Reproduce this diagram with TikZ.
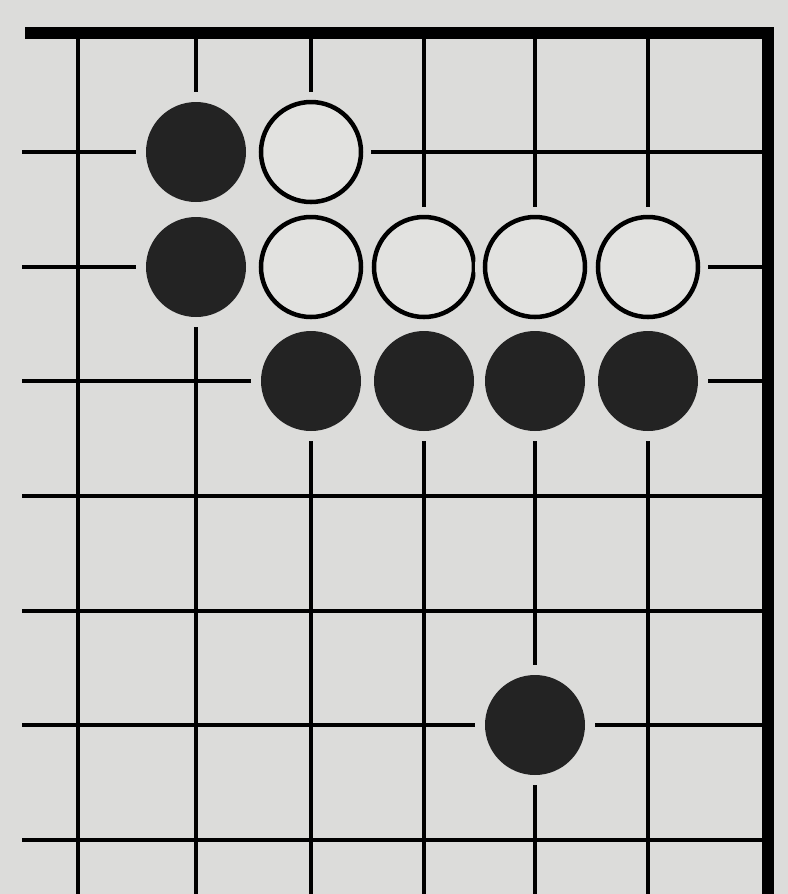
\documentclass[tikz,border=0pt]{standalone}
\usepackage{tikz}
\definecolor{paper}{HTML}{DCDCDA}
\definecolor{stoneblk}{HTML}{232323}
\definecolor{stonewht}{HTML}{E2E2E0}

\begin{document}
\begin{tikzpicture}[line cap=butt,
    gridline/.style={line width=0.04cm},
    edgeline/.style={line width=0.12cm},
    stone/.style={circle,inner sep=0pt,minimum size=1.0cm,
      preaction={draw=paper,line width=0.2cm}},
    blackstone/.style={stone,fill=stoneblk},
    whitestone/.style={stone,fill=stonewht,draw=black,line width=0.045cm}]

  % Papier
  \fill[paper] (0,0) rectangle (7.88,-8.94);
  \useasboundingbox (0,0) rectangle (7.88,-8.94);

  % Griglia
  \foreach \y in {1.52,2.67,3.81,4.96,6.11,7.25,8.40}
    \draw[gridline] (0.22,-\y) -- (7.68,-\y);
  \foreach \x in {0.78,1.96,3.11,4.24,5.35,6.48}
    \draw[gridline] (\x,-0.33) -- (\x,-8.94);

  % Bordi
  \draw[edgeline] (0.25,-0.33) -- (7.68,-0.33) -- (7.68,-8.94);

  % Pietre
  \node[blackstone] (b1) at (1.96,-1.52) {};
  \node[whitestone] (w1) at (3.11,-1.52) {};

  \node[blackstone] (b2) at (1.96,-2.67) {};
  \node[whitestone] (w2) at (3.11,-2.67) {};
  \node[whitestone] (w3) at (4.24,-2.67) {};
  \node[whitestone] (w4) at (5.35,-2.67) {};
  \node[whitestone] (w5) at (6.48,-2.67) {};

  \node[blackstone] (b3) at (3.11,-3.81) {};
  \node[blackstone] (b4) at (4.24,-3.81) {};
  \node[blackstone] (b5) at (5.35,-3.81) {};
  \node[blackstone] (b6) at (6.48,-3.81) {};

  \node[blackstone] (b7) at (5.35,-7.25) {};

\end{tikzpicture}
\end{document}
